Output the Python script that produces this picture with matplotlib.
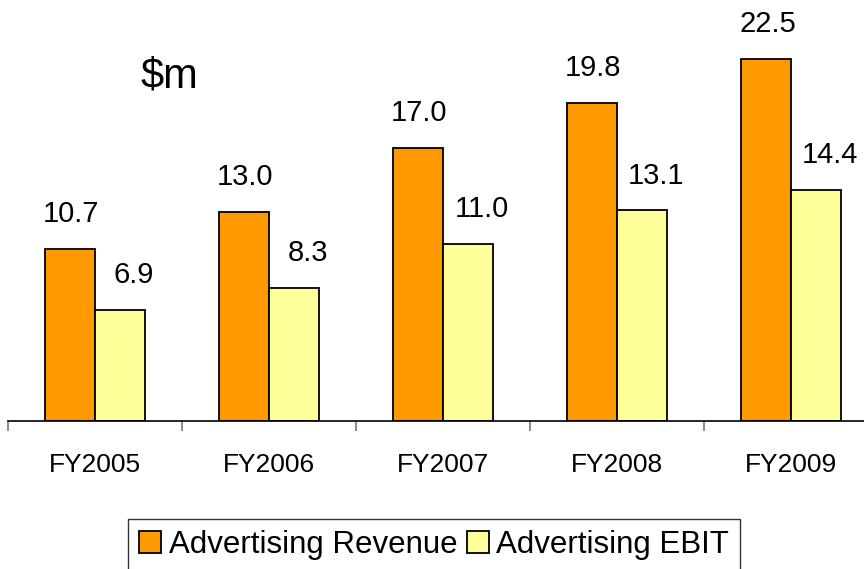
import numpy as np
import matplotlib
matplotlib.use("Agg")
import matplotlib.pyplot as plt

plt.rcParams['font.family'] = ['Liberation Sans', 'DejaVu Sans']

years = ['FY2005', 'FY2006', 'FY2007', 'FY2008', 'FY2009']
revenue = [10.7, 13.0, 17.0, 19.8, 22.5]
ebit = [6.9, 8.3, 11.0, 13.1, 14.4]

W, H = 864, 569
fig = plt.figure(figsize=(W / 100, H / 100), dpi=100)
# axes runs off the right edge of the picture, like the original
ax = fig.add_axes([8 / W, 1 - 421 / H, 870 / W, 401.9 / H])

x = np.arange(len(years))
bw = 0.2874
b1 = ax.bar(x - bw / 2, revenue, bw, color='#ff9900', edgecolor='black', linewidth=1.3,
            label='Advertising Revenue')
b2 = ax.bar(x + bw / 2, ebit, bw, color='#ffff99', edgecolor='black', linewidth=1.3,
            label='Advertising EBIT')

# ebit labels sit a bit right of their bars in the original
for bars, vals, dx in [(b1, revenue, 1), (b2, ebit, 10)]:
    for r, v in zip(bars, vals):
        ax.annotate('%.1f' % v, (r.get_x() + r.get_width() / 2, v), xytext=(dx, 15),
                    textcoords='offset points', ha='center', va='bottom', fontsize=21)

ax.set_xlim(-0.5, len(years) - 0.5)
ax.set_ylim(0, 25)
ax.set_yticks([])
for s in ['top', 'right', 'left']:
    ax.spines[s].set_visible(False)
ax.spines['bottom'].set_linewidth(1.2)
ax.set_xticks(np.arange(len(years) + 1) - 0.5, minor=False)
ax.set_xticklabels([])
ax.tick_params(axis='x', which='major', length=7, width=1.2, color='#777777')
ax.set_xticks(x, minor=True)
ax.set_xticklabels(years, minor=True, fontsize=19)
ax.tick_params(axis='x', which='minor', length=0, pad=23)

fig.text(141 / W, 1 - 76 / H, '$m', fontsize=30, va='center', ha='left')

leg = fig.legend(handles=[b1, b2], loc='upper left', bbox_to_anchor=(128 / W, 1 - 519 / H),
                 ncol=2, fontsize=22.5, frameon=True, fancybox=False, borderpad=0.35,
                 handlelength=0.7, handleheight=0.75, handletextpad=0.25, columnspacing=0.3,
                 borderaxespad=0)
leg.get_frame().set_edgecolor('black')
leg.get_frame().set_linewidth(1.0)

fig.savefig('out.png', dpi=100)
